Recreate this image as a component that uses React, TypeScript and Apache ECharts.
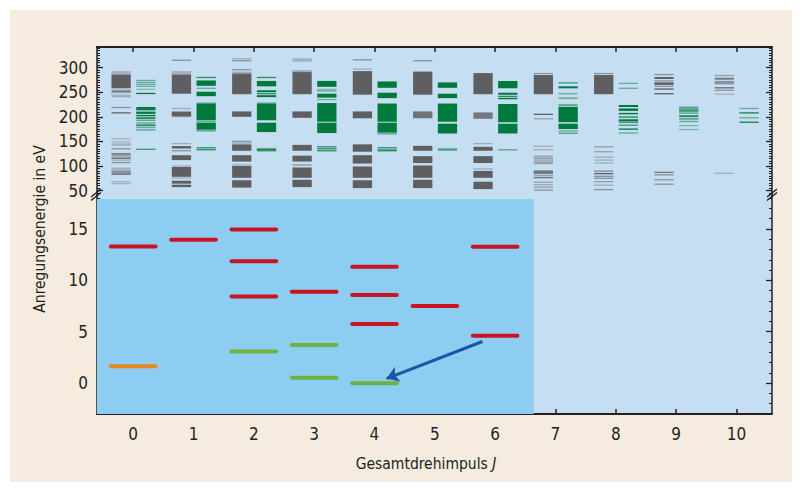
import React, { useEffect, useRef } from "react";
import * as echarts from "echarts";

const J_TICKS = [0, 1, 2, 3, 4, 5, 6, 7, 8, 9, 10];
const UPPER_LABELS = [50, 100, 150, 200, 250, 300];
const UPPER_MINOR: number[] = [];
for (let v = 45; v <= 340; v += 5) UPPER_MINOR.push(v);
const LOWER_LABELS = [0, 5, 10, 15];
const LOWER_MINOR: number[] = [];
for (let v = -3; v <= 18; v += 1) LOWER_MINOR.push(v);

// [J, E_low (eV), E_high (eV), opacity] — high-lying levels (upper panel)
const grayBands = [
  [0,286,293,0.35],[0,258,286,1],[0,253,255,0.55],[0,249.5,252,1],[0,244,244,0.4],[0,241,241,0.4],
  [0,219,219,0.6],[0,207.5,208.5,1],
  [0,155,155,0.35],[0,149,149,0.35],[0,141,146,0.35],[0,135,135,0.6],[0,124,125,1],[0,120.5,121,0.6],[0,115.5,116.5,1],[0,112,112,0.4],[0,107,107,0.6],
  [0,92,97,0.35],[0,85,91,0.6],[0,83,84,1],[0,68,68,0.35],[0,64,64,0.35],
  [1,315,315,0.6],[1,286,293,0.35],[1,247,286,1],[1,217,217,0.4],[1,199,212,0.4],[1,201,210,1],
  [1,145.5,145.5,0.4],[1,135.5,140.5,1],[1,131,131,0.6],[1,112,122,1],[1,100,100,0.4],[1,78,98,1],[1,75,76,0.4],[1,64,70,1],[1,57,62,1],
  [2,318,318,0.4],[2,314,314,0.6],[2,296,296,0.6],[2,288,292,0.4],[2,246,288,1],[2,200,211,1],
  [2,150,150,0.6],[2,146,147,0.4],[2,131,144,1],[2,109,122,1],[2,102,102,0.4],[2,76,100,1],[2,56,71,1],
  [3,312,319,0.35],[3,291,295,0.4],[3,246,291,1],[3,198,211,1],
  [3,131,143,1],[3,109,121,1],[3,102,102,0.6],[3,76,97,1],[3,57,72,1],
  [4,316,316,0.6],[4,297,297,0.4],[4,245,293,1],[4,197,211,1],
  [4,129,144,1],[4,105,122,1],[4,76,99,1],[4,55,71,1],
  [5,314,314,0.6],[5,245,292,1],[5,197,211,0.85],
  [5,131,141,1],[5,106,120,1],[5,76,101,1],[5,55,72,1],
  [6,246,289,1],[6,196,209,0.8],[6,145.5,145.5,0.4],[6,131,139,1],[6,106,120,1],[6,93,95,0.4],[6,76,90,1],[6,53,68,1],
  [7,288,288,0.6],[7,246,285,1],[7,205,205,1],[7,196,196,0.45],
  [7,140,140,0.4],[7,133,133,0.4],[7,120,120,0.5],[7,116,116,0.6],[7,112,112,0.5],[7,108,108,0.6],[7,105,105,0.5],
  [7,84,91,0.85],[7,80,82,0.5],[7,75,78,0.8],[7,66,68,0.5],[7,61,63,0.4],[7,56,58,0.5],[7,51,51,0.6],
  [8,288,288,0.6],[8,246,285,1],
  [8,139,139,0.5],[8,129,129,0.5],[8,118,118,0.4],[8,112,112,0.4],[8,106,106,0.4],
  [8,88,91,0.6],[8,84,85,1],[8,78,80,0.6],[8,75,75,0.6],[8,68,68,0.5],[8,61,61,0.4],[8,52,52,0.6],
  [9,286,286,0.6],[9,277,281,1],[9,272,274,0.6],[9,265,270,1],[9,261,263,0.6],[9,255,258,0.9],[9,247,247,1],
  [9,87,87,0.8],[9,82,82,0.6],[9,72,72,0.6],[9,63,63,0.6],
  [10,284,284,0.5],[10,275.5,279.5,0.8],[10,266,273,0.6],[10,259,259,0.9],[10,254,254,0.6],[10,246,246,0.35],
  [10,85,85,0.35],
];

const greenBands = [
  [0,274,274,0.5],[0,270,270,0.5],[0,266,266,0.5],[0,262,262,0.5],[0,255,257,0.35],[0,247,248,1],
  [0,214,220,1],[0,212,212,0.5],[0,206,210,1],[0,201,204,1],[0,196,199,1],[0,192,194,0.6],[0,186,189,0.5],[0,182,184,1],[0,177,180,0.5],[0,172,175,0.5],
  [0,134,134,0.7],
  [1,280,280,0.8],[1,263,274,1],[1,258,258,0.5],[1,242,251,1],[1,193,227,1],[1,227,229,0.5],[1,189,192,0.5],[1,174,188,1],[1,170,174,0.5],[1,137,137,0.8],[1,133,133,0.8],
  [2,280,280,0.8],[2,262,273,1],[2,250,254,1],[2,246,248,0.8],[2,240,244,1],[2,193,227,1],[2,227,229,0.5],[2,169,188,1],[2,129,137,0.45],[2,133,133,1],
  [3,261,273,1],[3,251,257,0.4],[3,239,247,1],[3,235,235,0.5],[3,190,228,1],[3,167,188,1],[3,139,139,0.8],[3,135,135,0.8],[3,131,131,0.8],
  [4,259,272,1],[4,238,249,1],[4,190,227,1],[4,168,188,1],[4,164,168,0.5],[4,137,137,0.8],[4,133,133,0.6],[4,131,131,0.8],
  [5,259,270,1],[5,238,247,1],[5,190,227,1],[5,166,186,1],[5,131,136,0.6],
  [6,258,273,1],[6,245,249,1],[6,240,243,0.8],[6,236,238,1],[6,189,226,1],[6,166,186,1],[6,133,133,0.5],
  [7,269,269,0.7],[7,258,262,1],[7,247,247,0.5],[7,238,238,0.6],[7,221,226,0.5],[7,189,220,1],[7,175,186,1],[7,170,172,0.5],[7,166,167,0.6],
  [8,268,268,0.5],[8,258,258,0.5],[8,220,224,1],[8,212,217,1],[8,205,208,1],[8,198,201,0.8],[8,191,195,1],[8,189,189,0.8],[8,183,183,0.7],[8,175,175,1],[8,167,167,0.5],
  [9,214,221,0.55],[9,212,212,1],[9,206,209,0.55],[9,200,203,1],[9,194,198,0.55],[9,190,191,0.55],[9,182,182,0.4],[9,174,174,0.4],
  [10,217,217,0.5],[10,208,208,0.9],[10,198,198,0.5],[10,189,189,0.9],
];

// Low-lying levels (lower panel): [J, E (eV)]
const redLevels = [[0,13.3],[1,13.95],[2,14.95],[2,11.85],[2,8.42],[3,8.9],[4,11.33],[4,8.58],[4,5.76],[5,7.5],[6,13.27],[6,4.6]];
const greenLevels = [[2,3.08],[3,3.72],[3,0.52],[4,0.0]];
const orangeLevels = [[0,1.65]];
const arrowFrom = [5.79, 4.05];
const arrowTo = [4.2, 0.45];
const shadedJ = [-0.6, 6.64];
const shadedE = [-3, 17.9];

const FONT = "'Liberation Sans Narrow', 'DejaVu Sans Condensed', 'Roboto', sans-serif";
const INK = "#231f20";
const GRAY = "95,95,98";
const GREEN = "0,122,60";

const X_MIN = -0.6;
const X_MAX = 10.59;

function bandRenderer(rgb: string, x0: number, x1: number) {
  return (params: any, api: any) => {
    const j = api.value(0), lo = api.value(1), hi = api.value(2), a = api.value(3);
    const p1 = api.coord([j + x0, hi]);
    const p2 = api.coord([j + x1, lo]);
    let y = p1[1];
    let h = p2[1] - p1[1];
    if (h < 1.3) {
      const c = (p1[1] + p2[1]) / 2;
      y = c - 0.65;
      h = 1.3;
    }
    return {
      type: "rect",
      shape: { x: p1[0], y, width: p2[0] - p1[0], height: h },
      style: { fill: `rgba(${rgb},${a})` },
    };
  };
}

function levelRenderer(color: string) {
  return (params: any, api: any) => {
    const j = api.value(0), e = api.value(1);
    const a = api.coord([j - 0.37, e]);
    const b = api.coord([j + 0.37, e]);
    return {
      type: "line",
      shape: { x1: a[0], y1: a[1], x2: b[0], y2: b[1] },
      style: { stroke: color, lineWidth: 4, lineCap: "round" },
    };
  };
}

function yAxisPair(gridIndex: number, min: number, max: number, major: number[], minor: number[], showLabels: boolean, position: string) {
  return [
    {
      type: "value", gridIndex, min, max, position,
      axisLine: { show: true, onZero: false, lineStyle: { color: INK, width: 1.5 } },
      axisTick: { show: true, inside: true, length: 6, customValues: major, lineStyle: { color: INK, width: 1.3 } },
      axisLabel: showLabels
        ? { show: true, customValues: major, margin: 9, color: INK, fontFamily: FONT, fontSize: 17 }
        : { show: false },
      splitLine: { show: false },
    },
    {
      type: "value", gridIndex, min, max, position,
      axisLine: { show: false, onZero: false },
      axisTick: { show: true, inside: true, length: 3, customValues: minor, lineStyle: { color: INK, width: 1 } },
      axisLabel: { show: false },
      splitLine: { show: false },
    },
  ];
}

export default function App() {
  const ref = useRef<HTMLDivElement>(null);
  useEffect(() => {
    if (!ref.current) return;
    const chart = echarts.init(ref.current, null, { renderer: "svg" });
    const option: any = {
      animation: false,
      grid: [
        { left: 97, right: 30, top: 47, height: 148, show: true, backgroundColor: "#c6def2", borderWidth: 0 },
        { left: 97, right: 30, top: 195, height: 219, show: true, backgroundColor: "#c6def2", borderWidth: 0 },
      ],
      xAxis: [
        {
          type: "value", gridIndex: 0, min: X_MIN, max: X_MAX, position: "top",
          axisLine: { show: true, onZero: false, lineStyle: { color: INK, width: 2.2 } },
          axisTick: { show: true, inside: true, length: 5, customValues: J_TICKS, lineStyle: { color: INK, width: 1.5 } },
          axisLabel: { show: false },
          splitLine: { show: false },
        },
        {
          type: "value", gridIndex: 1, min: X_MIN, max: X_MAX, position: "bottom",
          axisLine: { show: true, onZero: false, lineStyle: { color: INK, width: 1.8 } },
          axisTick: { show: true, inside: true, length: 5, customValues: J_TICKS, lineStyle: { color: INK, width: 1.5 } },
          axisLabel: { show: true, customValues: J_TICKS, margin: 11, color: INK, fontFamily: FONT, fontSize: 17 },
          splitLine: { show: false },
        },
      ],
      yAxis: [
        ...yAxisPair(0, 41, 342, UPPER_LABELS, UPPER_MINOR, true, "left"),
        ...yAxisPair(0, 41, 342, UPPER_LABELS, UPPER_MINOR, false, "right"),
        ...yAxisPair(1, -3, 18.3, LOWER_LABELS, LOWER_MINOR, true, "left"),
        ...yAxisPair(1, -3, 18.3, LOWER_LABELS, LOWER_MINOR, false, "right"),
      ],
      series: [
        {
          type: "custom", xAxisIndex: 0, yAxisIndex: 0, clip: true,
          renderItem: bandRenderer(GRAY, -0.36, -0.04), data: grayBands,
        },
        {
          type: "custom", xAxisIndex: 0, yAxisIndex: 0, clip: true,
          renderItem: bandRenderer(GREEN, 0.05, 0.37), data: greenBands,
        },
        {
          type: "custom", xAxisIndex: 1, yAxisIndex: 4, clip: true,
          renderItem: levelRenderer("#c9151f"), data: redLevels,
          markArea: {
            silent: true,
            itemStyle: { color: "#8dcdf1" },
            data: [[{ coord: [shadedJ[0], shadedE[0]] }, { coord: [shadedJ[1], shadedE[1]] }]],
          },
        },
        {
          type: "custom", xAxisIndex: 1, yAxisIndex: 4, clip: true,
          renderItem: levelRenderer("#6cb33f"), data: greenLevels,
        },
        {
          type: "custom", xAxisIndex: 1, yAxisIndex: 4, clip: true,
          renderItem: levelRenderer("#e8881c"), data: orangeLevels,
        },
        {
          type: "lines", coordinateSystem: "cartesian2d", xAxisIndex: 1, yAxisIndex: 4,
          symbol: ["none", "arrow"], symbolSize: [10, 12],
          lineStyle: { color: "#1b56a6", width: 3, opacity: 1, curveness: 0 },
          data: [{ coords: [arrowFrom, arrowTo] }],
        },
      ],
      graphic: [
        { type: "line", z: 100, shape: { x1: 91, y1: 197, x2: 101, y2: 189 }, style: { stroke: INK, lineWidth: 1.5 } },
        { type: "line", z: 100, shape: { x1: 91, y1: 200.5, x2: 101, y2: 192.5 }, style: { stroke: INK, lineWidth: 1.5 } },
        { type: "line", z: 100, shape: { x1: 767, y1: 197, x2: 777, y2: 189 }, style: { stroke: INK, lineWidth: 1.5 } },
        { type: "line", z: 100, shape: { x1: 767, y1: 200.5, x2: 777, y2: 192.5 }, style: { stroke: INK, lineWidth: 1.5 } },
        {
          type: "text", z: 100, x: 40, y: 229, rotation: Math.PI / 2,
          style: { text: "Anregungsenergie in eV", fill: INK, font: `15.5px ${FONT}`, textAlign: "center", textVerticalAlign: "middle" },
        },
        {
          type: "text", z: 100, x: 426, y: 464,
          style: {
            text: "Gesamtdrehimpuls {i|J}", fill: INK, font: `15.5px ${FONT}`, textAlign: "center", textVerticalAlign: "middle",
            rich: { i: { fontStyle: "italic", fontFamily: FONT, fontSize: 15.5, fill: INK } },
          },
        },
      ],
    };
    chart.setOption(option);
    return () => chart.dispose();
  }, []);
  return (
    <div style={{ position: "fixed", left: 0, top: 0, width: 802, height: 492, background: "#ffffff" }}>
      <div style={{ position: "absolute", left: 10, top: 10, width: 782, height: 472, background: "#f5ecdf" }} />
      <div ref={ref} style={{ position: "absolute", left: 0, top: 0, width: 802, height: 492 }} />
    </div>
  );
}
